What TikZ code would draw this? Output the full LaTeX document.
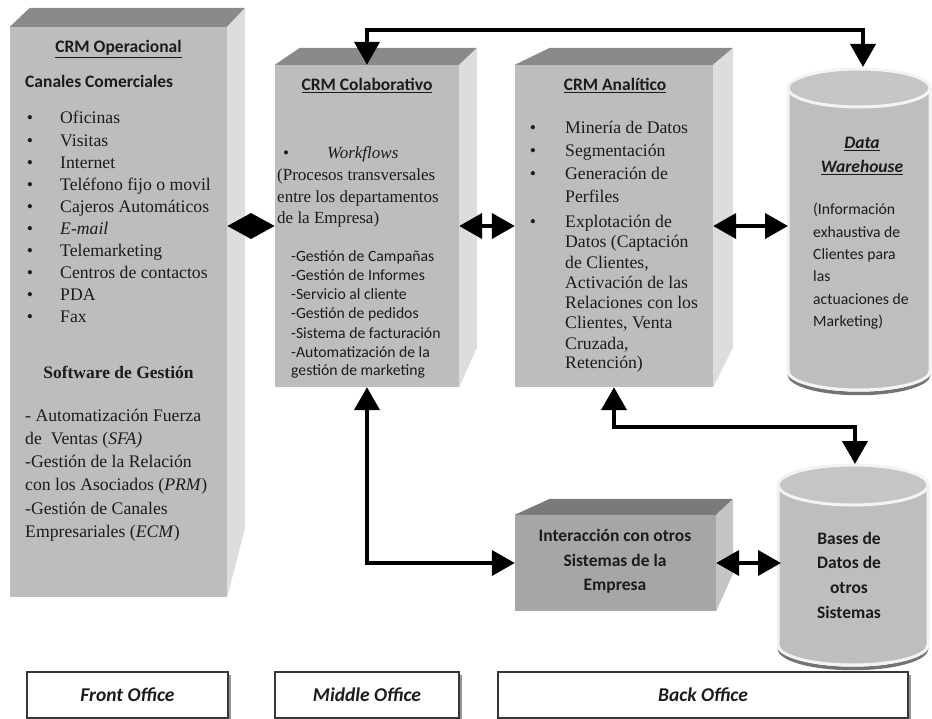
\documentclass[tikz,border=0pt]{standalone}
\usepackage{fontspec}
\setmainfont{Liberation Serif}
\newfontfamily\calibri{Carlito}
\usetikzlibrary{arrows.meta,shadows,calc}
\definecolor{frontgray}{RGB}{189,189,189}
\definecolor{topgray}{RGB}{138,138,138}
\definecolor{sidegray}{RGB}{221,221,221}
\definecolor{ifront}{RGB}{166,166,166}
\definecolor{itop}{RGB}{122,122,122}
\definecolor{iside}{RGB}{196,196,196}
\definecolor{cylgray}{RGB}{190,190,190}
\definecolor{cyltop}{RGB}{197,197,197}
\definecolor{rim}{RGB}{243,243,243}
\definecolor{txtc}{RGB}{28,28,28}
\begin{document}
\begin{tikzpicture}[x=1pt,y=-1pt,
  >={Triangle[length=23pt,width=25pt]},
  conn/.style={line width=4pt,draw=black,<->},
  face/.style={draw=none,inner sep=0pt,fill=frontgray},
  topface/.style={fill=topgray},
  sideface/.style={fill=sidegray},
  ser/.style={inner sep=0pt,text=txtc,font=\fontsize{17.7}{21}\selectfont},
  sl/.style={ser,anchor=base west},
  sc/.style={ser,anchor=base},
  hd/.style={inner sep=0pt,anchor=base,text=txtc,font=\calibri\bfseries\fontsize{17.5}{21}\selectfont},
  hdl/.style={hd,anchor=base west},
  cal/.style={inner sep=0pt,anchor=base west,text=txtc,font=\calibri\fontsize{15.7}{19}\selectfont},
  cylrim/.style={draw=rim,line width=3pt},
  cylshadow/.style={draw=black!55,line width=3.5pt},
  lab/.style={draw={rgb,255:red,55;green,55;blue,55},line width=1.3pt,fill=white,
    inner sep=0pt,text=txtc,font=\calibri\bfseries\itshape\fontsize{19.5}{22}\selectfont,
    drop shadow={shadow xshift=3pt,shadow yshift=-3pt,fill=black!75,opacity=0.55}}
]
\fill[white] (0,0) rectangle (932,719);
\useasboundingbox (0,0) rectangle (932,719);

% ---------- CRM Operacional ----------
\node[face,minimum width=217,minimum height=570] (op) at (118.5,312) {};
\fill[topface] (op.north west) -- ++(20,-19) -- ($(op.north east)+(18,-19)$) -- (op.north east) -- cycle;
\fill[sideface] (op.north east) -- ++(18,-19) -- ($(op.south east)+(18,-70)$) -- (op.south east) -- cycle;
\node[hd] (opt) at (118.5,53) {\underline{CRM Operacional}};
\node[hdl] (opc) at (25,88) {Canales Comerciales};
\foreach \t [count=\i] in {Oficinas,Visitas,Internet,Teléfono fijo o movil,Cajeros Automáticos,\textit{E-mail},Telemarketing,Centros de contactos,PDA,Fax}{
  \node[sc] (opb\i) at (30,{124+22.1*(\i-1)}) {•};
  \node[sl] (opi\i) at (60,{124+22.1*(\i-1)}) {\t};
}
\node[sc,font=\bfseries\fontsize{17.5}{21}\selectfont] (ops) at (118.5,378) {Software de Gestión};
\foreach \t [count=\i] in {{- Automatización Fuerza},{de\ \ Ventas (\textit{SFA)}},{-Gestión de la Relación},{con los Asociados (\textit{PRM})},{-Gestión de Canales},{Empresariales (\textit{ECM})}}{
  \node[sl] (opg\i) at (25,{421+23.3*(\i-1)}) {\t};
}

% ---------- CRM Colaborativo ----------
\node[face,minimum width=184,minimum height=322] (colab) at (367,226) {};
\fill[topface] (colab.north west) -- ++(25,-17) -- ($(colab.north east)+(18,-17)$) -- (colab.north east) -- cycle;
\fill[sideface] (colab.north east) -- ++(18,-17) -- ($(colab.south east)+(18,-40)$) -- (colab.south east) -- cycle;
\node[hd] (colt) at (367,91) {\underline{CRM Colaborativo}};
\node[sc,font=\fontsize{17}{21}\selectfont] (colb) at (286,159) {•};
\node[sl,font=\itshape\fontsize{17}{21}\selectfont] (colw) at (327,159) {Workflows};
\node[sl,font=\fontsize{17}{21}\selectfont] (colp1) at (277,181) {(Procesos transversales};
\node[sl,font=\fontsize{17}{21}\selectfont] (colp2) at (277,202.5) {entre los departamentos};
\node[sl,font=\fontsize{17}{21}\selectfont] (colp3) at (277,224) {de la Empresa)};
\foreach \t [count=\i] in {-Gestión de Campañas,-Gestión de Informes,-Servicio al cliente,-Gestión de pedidos,-Sistema de facturación,-Automatización de la,gestión de marketing}{
  \node[cal] (coll\i) at (291,{262+19*(\i-1)}) {\t};
}

% ---------- CRM Analitico ----------
\node[face,minimum width=198,minimum height=322] (anal) at (614,226) {};
\fill[topface] (anal.north west) -- ++(35,-17) -- ($(anal.north east)+(20,-17)$) -- (anal.north east) -- cycle;
\fill[sideface] (anal.north east) -- ++(20,-17) -- ($(anal.south east)+(20,-40)$) -- (anal.south east) -- cycle;
\node[hd] (ant) at (615,91) {\underline{CRM Analítico}};
\foreach \yy [count=\i] in {134,157,180,228}{
  \node[sc] (anb\i) at (533,\yy) {•};
}
\foreach \t/\yy [count=\i] in {Minería de Datos/134,Segmentación/157,Generación de/180,Perfiles/203,Explotación de/228,{Datos (Captación}/248,{de Clientes,}/269,Activación de las/289,Relaciones con los/309,{Clientes, Venta}/329,{Cruzada,}/349,{Retención)}/369}{
  \node[sl] (ani\i) at (565,\yy) {\t};
}

% ---------- Interaccion ----------
\node[face,fill=ifront,minimum width=201,minimum height=96] (inter) at (615.5,563) {};
\fill[itop] (inter.north west) -- ++(35,-16) -- ($(inter.north east)+(17,-16)$) -- (inter.north east) -- cycle;
\fill[iside] (inter.north east) -- ++(17,-16) -- ($(inter.south east)+(17,-38)$) -- (inter.south east) -- cycle;
\node[hd] (int1) at (615,541) {Interacción con otros};
\node[hd] (int2) at (615,566) {Sistemas de la};
\node[hd] (int3) at (615,590) {Empresa};

% ---------- Data Warehouse cylinder ----------
\draw[cylshadow] (789,374) arc[start angle=180,end angle=0,x radius=70,y radius=19.5];
\fill[cylgray] (788,88) -- (788,371) arc[start angle=180,end angle=0,x radius=71,y radius=19] -- (930,88) -- cycle;
\draw[cylrim] (788,88) -- (788,371) arc[start angle=180,end angle=0,x radius=71,y radius=19] -- (930,88);
\draw[cylrim,fill=cyltop] (859,88) ellipse [x radius=71,y radius=19];
\coordinate (dwT) at (863,67);
\coordinate (dwL) at (788,226);
\node[hd,font=\calibri\bfseries\itshape\fontsize{17.5}{21}\selectfont] (dw1) at (862,149) {\underline{Data}};
\node[hd,font=\calibri\bfseries\itshape\fontsize{17.5}{21}\selectfont] (dw2) at (862,173) {\underline{Warehouse}};
\node[cal] (dwp1) at (813,215) {(Información};
\node[cal] (dwp2) at (813,237.3) {exhaustiva de};
\node[cal] (dwp3) at (813,259.6) {Clientes para};
\node[cal] (dwp4) at (813,281.9) {las};
\node[cal] (dwp5) at (813,304.2) {actuaciones de};
\node[cal] (dwp6) at (813,326.5) {Marketing)};

% ---------- Bases de Datos cylinder ----------
\draw[cylshadow] (779,648) arc[start angle=180,end angle=0,x radius=74,y radius=20.5];
\fill[cylgray] (778,485) -- (778,645) arc[start angle=180,end angle=0,x radius=75,y radius=20] -- (928,485) -- cycle;
\draw[cylrim] (778,485) -- (778,645) arc[start angle=180,end angle=0,x radius=75,y radius=20] -- (928,485);
\draw[cylrim,fill=cyltop] (853,485) ellipse [x radius=75,y radius=20];
\coordinate (bdT) at (855,464);
\coordinate (bdL) at (781,563);
\foreach \t [count=\i] in {Bases de,Datos de,otros,Sistemas}{
  \node[hd] (bd\i) at (849,{544+24.7*(\i-1)}) {\t};
}

% ---------- connectors ----------
\draw[conn,>={Triangle[length=24pt,width=25pt]}] (op.east |- colab.west) -- (colab.west);
\draw[conn] (colab.east) -- (anal.west);
\draw[conn] (anal.east) -- (dwL);
\draw[conn] (colab.north) -- ++(0,-35) -| (dwT);
\draw[conn] (anal.south) -- ++(0,40) -| (bdT);
\draw[conn] (colab.south) |- (inter.west);
\draw[conn] (inter.east) -- (bdL);

% ---------- office labels ----------
\node[lab,minimum width=201,minimum height=46] (fo) at (127.5,695) {Front Office};
\node[lab,minimum width=184,minimum height=46] (mo) at (367,695) {Middle Office};
\node[lab,minimum width=410,minimum height=46] (bo) at (703,695) {Back Office};
\end{tikzpicture}
\end{document}
